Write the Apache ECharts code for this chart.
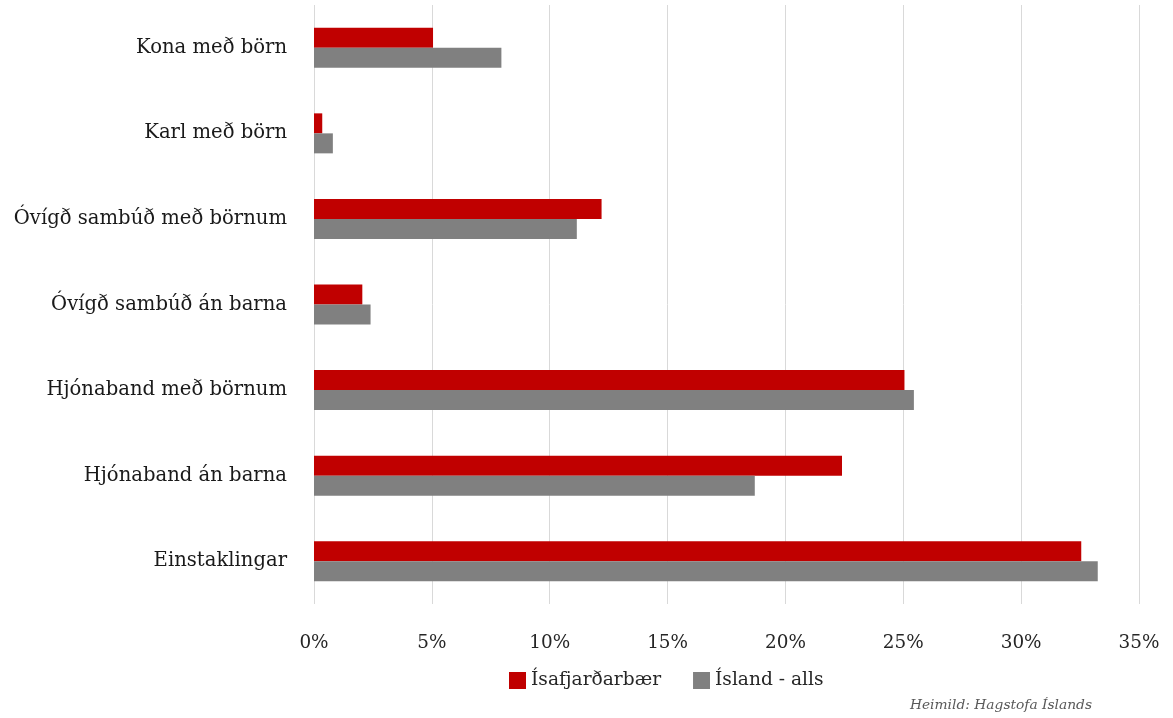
<!DOCTYPE html>
<html>
<head>
<meta charset="utf-8">
<script src="https://cdn.jsdelivr.net/npm/echarts@6/dist/echarts.min.js"></script>
<style>
  html, body { margin: 0; padding: 0; background: #fff; }
  #chart { width: 1173px; height: 718px; }
</style>
</head>
<body>
<div id="chart"></div>
<script>
// Household types, listed top to bottom
const categories = [
  'Kona með börn',
  'Karl með börn',
  'Óvígð sambúð með börnum',
  'Óvígð sambúð án barna',
  'Hjónaband með börnum',
  'Hjónaband án barna',
  'Einstaklingar'
];
const seriesNames = ['Ísafjarðarbær', 'Ísland - alls'];
// Share of households (%)
const isafjordur = [5.05, 0.35, 12.2, 2.05, 25.05, 22.4, 32.55];
const iceland = [7.95, 0.8, 11.15, 2.4, 25.45, 18.7, 33.25];
const sourceText = 'Heimild: Hagstofa Íslands';

const FONT = 'DejaVu Serif';
const chart = echarts.init(document.getElementById('chart'));
chart.setOption({
  animation: false,
  textStyle: { fontFamily: FONT },
  grid: { left: 314, right: 34, top: 5, bottom: 114 },
  xAxis: {
    type: 'value',
    min: 0, max: 35, interval: 5,
    axisLine: { show: false },
    axisTick: { show: false },
    splitLine: { lineStyle: { color: '#d9d9d9', width: 1 } },
    axisLabel: {
      formatter: v => v + '%',
      color: '#262626', fontSize: 18.4, fontFamily: FONT, margin: 30
    }
  },
  yAxis: {
    type: 'category',
    inverse: true,
    data: categories,
    axisLine: { show: false },
    axisTick: { show: false },
    axisLabel: { color: '#1a1a1a', fontSize: 19.6, fontFamily: FONT, margin: 27 }
  },
  legend: {
    bottom: 23,
    left: 504,
    itemWidth: 17, itemHeight: 17,
    itemGap: 32,
    icon: 'rect',
    textStyle: { fontSize: 18.6, color: '#262626', fontFamily: FONT },
    data: seriesNames
  },
  graphic: [{
    type: 'text',
    right: 81,
    bottom: 6,
    style: {
      text: sourceText,
      font: 'italic 13.8px "' + FONT + '"',
      fill: '#595959'
    }
  }],
  series: [
    {
      name: seriesNames[0], type: 'bar', data: isafjordur,
      barWidth: 20, barGap: '0%',
      itemStyle: { color: '#c00000' }
    },
    {
      name: seriesNames[1], type: 'bar', data: iceland,
      barWidth: 20, barGap: '0%',
      itemStyle: { color: '#808080' }
    }
  ]
});
</script>
</body>
</html>
